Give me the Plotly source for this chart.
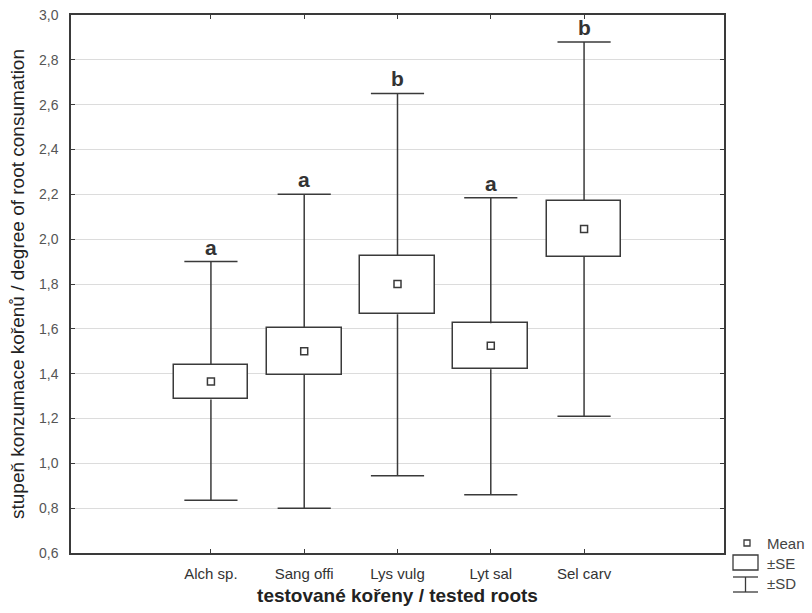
import plotly.graph_objects as go

categories = ["Alch sp.", "Sang offi", "Lys vulg", "Lyt sal", "Sel carv"]
means = [1.365, 1.50, 1.80, 1.525, 2.045]
se_low = [1.285, 1.395, 1.665, 1.42, 1.92]
se_high = [1.44, 1.605, 1.925, 1.625, 2.17]
sd_low = [0.835, 0.80, 0.945, 0.86, 1.21]
sd_high = [1.90, 2.20, 2.65, 2.185, 2.88]
letters = ["a", "a", "b", "a", "b"]
y_ticks = [0.6, 0.8, 1.0, 1.2, 1.4, 1.6, 1.8, 2.0, 2.2, 2.4, 2.6, 2.8, 3.0]

LC = "#3a3a3a"
BOX_W = 0.8
CAP_W = 0.57
xs = list(range(len(categories)))

fig = go.Figure()

# SE boxes
fig.add_trace(go.Bar(
    x=xs, y=[h - l for h, l in zip(se_high, se_low)], base=se_low,
    width=BOX_W, marker=dict(color="white", line=dict(color=LC, width=1.5)),
    showlegend=False, hoverinfo="skip"))

# whiskers
wx, wy = [], []
for i in xs:
    wx += [i, i, None, i, i, None]
    wy += [sd_low[i], se_low[i], None, se_high[i], sd_high[i], None]
    wx += [i - CAP_W / 2, i + CAP_W / 2, None, i - CAP_W / 2, i + CAP_W / 2, None]
    wy += [sd_low[i], sd_low[i], None, sd_high[i], sd_high[i], None]
fig.add_trace(go.Scatter(x=wx, y=wy, mode="lines", line=dict(color=LC, width=1.5),
                         showlegend=False, hoverinfo="skip"))

# means
fig.add_trace(go.Scatter(x=xs, y=means, mode="markers",
                         marker=dict(symbol="square-open", size=7, color=LC, line=dict(width=1.5)),
                         showlegend=False))

for i in xs:
    fig.add_annotation(x=i, y=sd_high[i], text="<b>%s</b>" % letters[i], showarrow=False,
                       yanchor="bottom", yshift=1, font=dict(size=21, color="#333"))

# legend glyphs (paper coords)
W, H = 812, 613
def px(x):
    return (x - 71) / (724 - 71)
def py(y):
    return (553 - y) / (553 - 15)
fig.add_shape(type="rect", xref="paper", yref="paper", x0=px(744), x1=px(750), y0=py(546), y1=py(540),
              line=dict(color=LC, width=1.3), fillcolor="white")
fig.add_shape(type="rect", xref="paper", yref="paper", x0=px(733), x1=px(758), y0=py(570), y1=py(555),
              line=dict(color=LC, width=1.3), fillcolor="white")
fig.add_shape(type="line", xref="paper", yref="paper", x0=px(745.5), x1=px(745.5), y0=py(592), y1=py(577),
              line=dict(color=LC, width=1.3))
fig.add_shape(type="line", xref="paper", yref="paper", x0=px(733), x1=px(758), y0=py(577), y1=py(577),
              line=dict(color=LC, width=1.3))
fig.add_shape(type="line", xref="paper", yref="paper", x0=px(733), x1=px(758), y0=py(592), y1=py(592),
              line=dict(color=LC, width=1.3))
for txt, yy in [("Mean", 543), ("±SE", 563), ("±SD", 583)]:
    fig.add_annotation(xref="paper", yref="paper", x=px(767), y=py(yy), text=txt, showarrow=False,
                       xanchor="left", yanchor="middle", xshift=-2, font=dict(size=15, color="#444"))

fig.update_layout(
    width=W, height=H, separators=", ",
    margin=dict(l=71, r=88, t=15, b=60, autoexpand=False),
    plot_bgcolor="white", paper_bgcolor="white",
    font=dict(family="Liberation Sans, Arial, sans-serif", color="#333"),
    bargap=0,
)
fig.update_xaxes(range=[-1.5, 5.5], tickvals=xs, ticktext=categories, showgrid=False,
                 showline=True, linecolor=LC, linewidth=1.5, mirror="ticks",
                 ticks="inside", ticklen=4, tickcolor=LC, tickfont=dict(size=15, color="#333"),
                 ticklabelstandoff=6,
                 title=dict(text="<b>testované kořeny / tested roots</b>", font=dict(size=19, color="#222"), standoff=8),
                 zeroline=False, automargin=False)
fig.update_yaxes(range=[0.6, 3.0], tickvals=y_ticks, tickformat=".1f", showgrid=True, gridcolor="#dcdcdc",
                 gridwidth=1, showline=True, linecolor=LC, linewidth=1.5, mirror="ticks",
                 ticks="inside", ticklen=4, tickcolor=LC, tickfont=dict(size=14, color="#555"),
                 ticklabelstandoff=8,
                 title=dict(text="stupeň konzumace kořenů / degree of root consumation",
                            font=dict(size=19, color="#222"), standoff=9),
                 zeroline=False, automargin=False)

fig.write_html("out.html", config={"displayModeBar": False},
               post_script="document.body.style.margin='0';document.body.style.overflow='hidden';")
